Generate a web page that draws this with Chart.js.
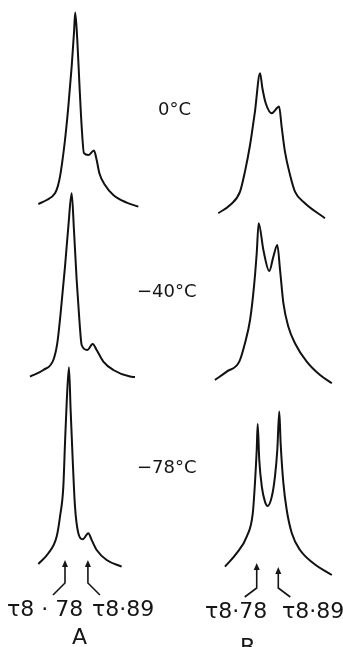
<!DOCTYPE html>
<html>
<head>
<meta charset="utf-8">
<script src="https://cdn.jsdelivr.net/npm/chart.js@4/dist/chart.umd.min.js"></script>
<style>
  html, body { margin: 0; padding: 0; background: #ffffff; }
  #wrap { position: relative; width: 343px; height: 647px; overflow: hidden; background: #fff; }
  canvas { position: absolute; }
  .lbl { position: absolute; font-family: "DejaVu Sans", sans-serif; color: #151515; white-space: nowrap; }
  .temp { font-size: 18px; line-height: 18px; }
  .tau { font-size: 22px; line-height: 22px; }
</style>
</head>
<body>
<div id="wrap">
  <canvas id="a0" width="170" height="220" style="left:0;top:0"></canvas>
  <canvas id="b0" width="171" height="220" style="left:172px;top:0"></canvas>
  <canvas id="a40" width="170" height="220" style="left:0;top:180px"></canvas>
  <canvas id="b40" width="171" height="220" style="left:172px;top:180px"></canvas>
  <canvas id="a78" width="170" height="240" style="left:0;top:360px"></canvas>
  <canvas id="b78" width="171" height="240" style="left:172px;top:360px"></canvas>

  <div class="lbl temp" id="t0" style="left:158px;top:100px">0°C</div>
  <div class="lbl temp" id="t40" style="left:137px;top:282px">−40°C</div>
  <div class="lbl temp" id="t78" style="left:137px;top:458px">−78°C</div>

  <div class="lbl tau" style="left:7px;top:598px">τ8 · 78</div>
  <div class="lbl tau" style="left:92px;top:598px">τ8·89</div>
  <div class="lbl tau" style="left:205px;top:600px">τ8·78</div>
  <div class="lbl tau" style="left:282px;top:600px">τ8·89</div>
  <div class="lbl tau" style="left:72px;top:626px">A</div>
  <div class="lbl tau" style="left:240px;top:636px">B</div>
</div>
<script>
// Chemical shift markers (tau scale)
const markers = [8.78, 8.89];
const markerLabels = ["τ8·78", "τ8·89"];
const temperatures = ["0°C", "−40°C", "−78°C"];

// Spectrum A — chemical shift (tau) and relative intensity
const tauA0 = [8.652, 8.692, 8.732, 8.745, 8.756, 8.766, 8.780, 8.796, 8.812, 8.823, 8.829, 8.839, 8.849, 8.860, 8.871, 8.892, 8.919, 8.932, 8.945, 8.972, 9.012, 9.076, 9.132];
const intA0 = [8, 10, 13.4, 16.7, 21.7, 28.4, 40, 56.7, 76.7, 93.4, 103.7, 90, 68.4, 46.7, 33.4, 32.5, 34.7, 30, 23.4, 17.5, 12.5, 8.7, 6.7];

const tauA40 = [8.612, 8.676, 8.724, 8.743, 8.759, 8.780, 8.796, 8.812, 8.823, 8.836, 8.849, 8.860, 8.887, 8.913, 8.932, 8.964, 9.012, 9.092, 9.116];
const intA40 = [11.7, 15, 20, 28.4, 43.4, 66.7, 86.7, 103.4, 85, 60, 40, 27.5, 25, 28, 25, 19.2, 15, 11.7, 11.5];

const tauA78 = [8.652, 8.700, 8.740, 8.756, 8.772, 8.780, 8.788, 8.799, 8.807, 8.817, 8.828, 8.844, 8.865, 8.892, 8.908, 8.932, 8.980, 9.052];
const intA78 = [8, 13.4, 21.7, 31.7, 46.7, 68.4, 88.4, 106.4, 85, 60, 36.7, 23.4, 20.4, 23.4, 20, 15, 10, 6.7];

// Spectrum B
const tauB0 = [8.584, 8.644, 8.695, 8.720, 8.746, 8.771, 8.797, 8.809, 8.826, 8.857, 8.894, 8.908, 8.924, 8.950, 8.975, 9.026, 9.128];
const intB0 = [3.4, 7.5, 14.2, 24.2, 37.5, 54.2, 73.4, 65.9, 58.4, 53.4, 56.7, 45.9, 34.2, 22.5, 14.2, 8.4, 0.9];

const tauB40 = [8.567, 8.627, 8.691, 8.720, 8.746, 8.766, 8.780, 8.790, 8.814, 8.844, 8.865, 8.885, 8.899, 8.916, 8.941, 8.975, 9.035, 9.103, 9.163];
const intB40 = [10, 14.2, 19.2, 28.4, 40, 56.7, 73.4, 88.4, 75, 64.5, 71.7, 77.5, 65, 48.4, 36.7, 28.4, 19.2, 12.5, 8.4];

const tauB78 = [8.618, 8.678, 8.729, 8.760, 8.771, 8.780, 8.785, 8.793, 8.806, 8.822, 8.836, 8.857, 8.873, 8.885, 8.895, 8.902, 8.916, 8.933, 8.959, 9.001, 9.069, 9.163];
const intB78 = [6.7, 13.4, 21.7, 33.4, 48.4, 65, 78, 60, 46.7, 39.2, 37, 41.7, 51.7, 65, 84.2, 68.4, 48.4, 35, 23.4, 15, 8.4, 2.5];

// axis ranges (tau) for the two columns
const rangeA = [8.468, 9.284];
const rangeB = [8.348, 9.220];

Chart.defaults.devicePixelRatio = 1;

const arrowPlugin = {
  id: 'arrows',
  afterDatasetsDraw(chart, args, opts) {
    if (!opts || !opts.show) return;
    const ctx = chart.ctx;
    const xs = chart.scales.x, ys = chart.scales.y;
    ctx.save();
    ctx.strokeStyle = '#151515';
    ctx.fillStyle = '#151515';
    ctx.lineWidth = 1.6;
    markers.forEach((m, i) => {
      const x = xs.getPixelForValue(m);
      const tip = ys.getPixelForValue(opts.tip[i]);
      const bend = ys.getPixelForValue(opts.bend);
      const tail = ys.getPixelForValue(opts.tail);
      const dx = i === 0 ? -12 : 12;
      ctx.beginPath();
      ctx.moveTo(x, tip + 5);
      ctx.lineTo(x, bend);
      ctx.lineTo(x + dx, tail);
      ctx.stroke();
      ctx.beginPath();
      ctx.moveTo(x, tip);
      ctx.lineTo(x - 3, tip + 7);
      ctx.lineTo(x + 3, tip + 7);
      ctx.closePath();
      ctx.fill();
    });
    ctx.restore();
  }
};

function makeChart(id, tau, intensity, range, ymin, arrowOpts) {
  const pts = tau.map((t, i) => ({ x: t, y: intensity[i] }));
  return new Chart(document.getElementById(id), {
    type: 'line',
    data: { datasets: [{
      data: pts,
      borderColor: '#111111',
      borderWidth: 2,
      pointRadius: 0,
      fill: false,
      cubicInterpolationMode: 'monotone',
      clip: false
    }]},
    options: {
      responsive: false,
      animation: false,
      layout: { padding: 0 },
      plugins: { legend: { display: false }, tooltip: { enabled: false }, arrows: arrowOpts || { show: false } },
      scales: {
        x: { type: 'linear', display: false, min: range[0], max: range[1] },
        y: { display: false, min: ymin, max: 110 }
      }
    },
    plugins: [arrowPlugin]
  });
}

makeChart('a0', tauA0, intA0, rangeA, 0);
makeChart('b0', tauB0, intB0, rangeB, 0);
makeChart('a40', tauA40, intA40, rangeA, 0);
makeChart('b40', tauB40, intB40, rangeB, 0);
makeChart('a78', tauA78, intA78, rangeA, -10, { show: true, tip: [10, 10], bend: -1.5, tail: -7.5 });
makeChart('b78', tauB78, intB78, rangeB, -10, { show: true, tip: [8.5, 6.5], bend: -4, tail: -8.5 });
</script>
</body>
</html>
